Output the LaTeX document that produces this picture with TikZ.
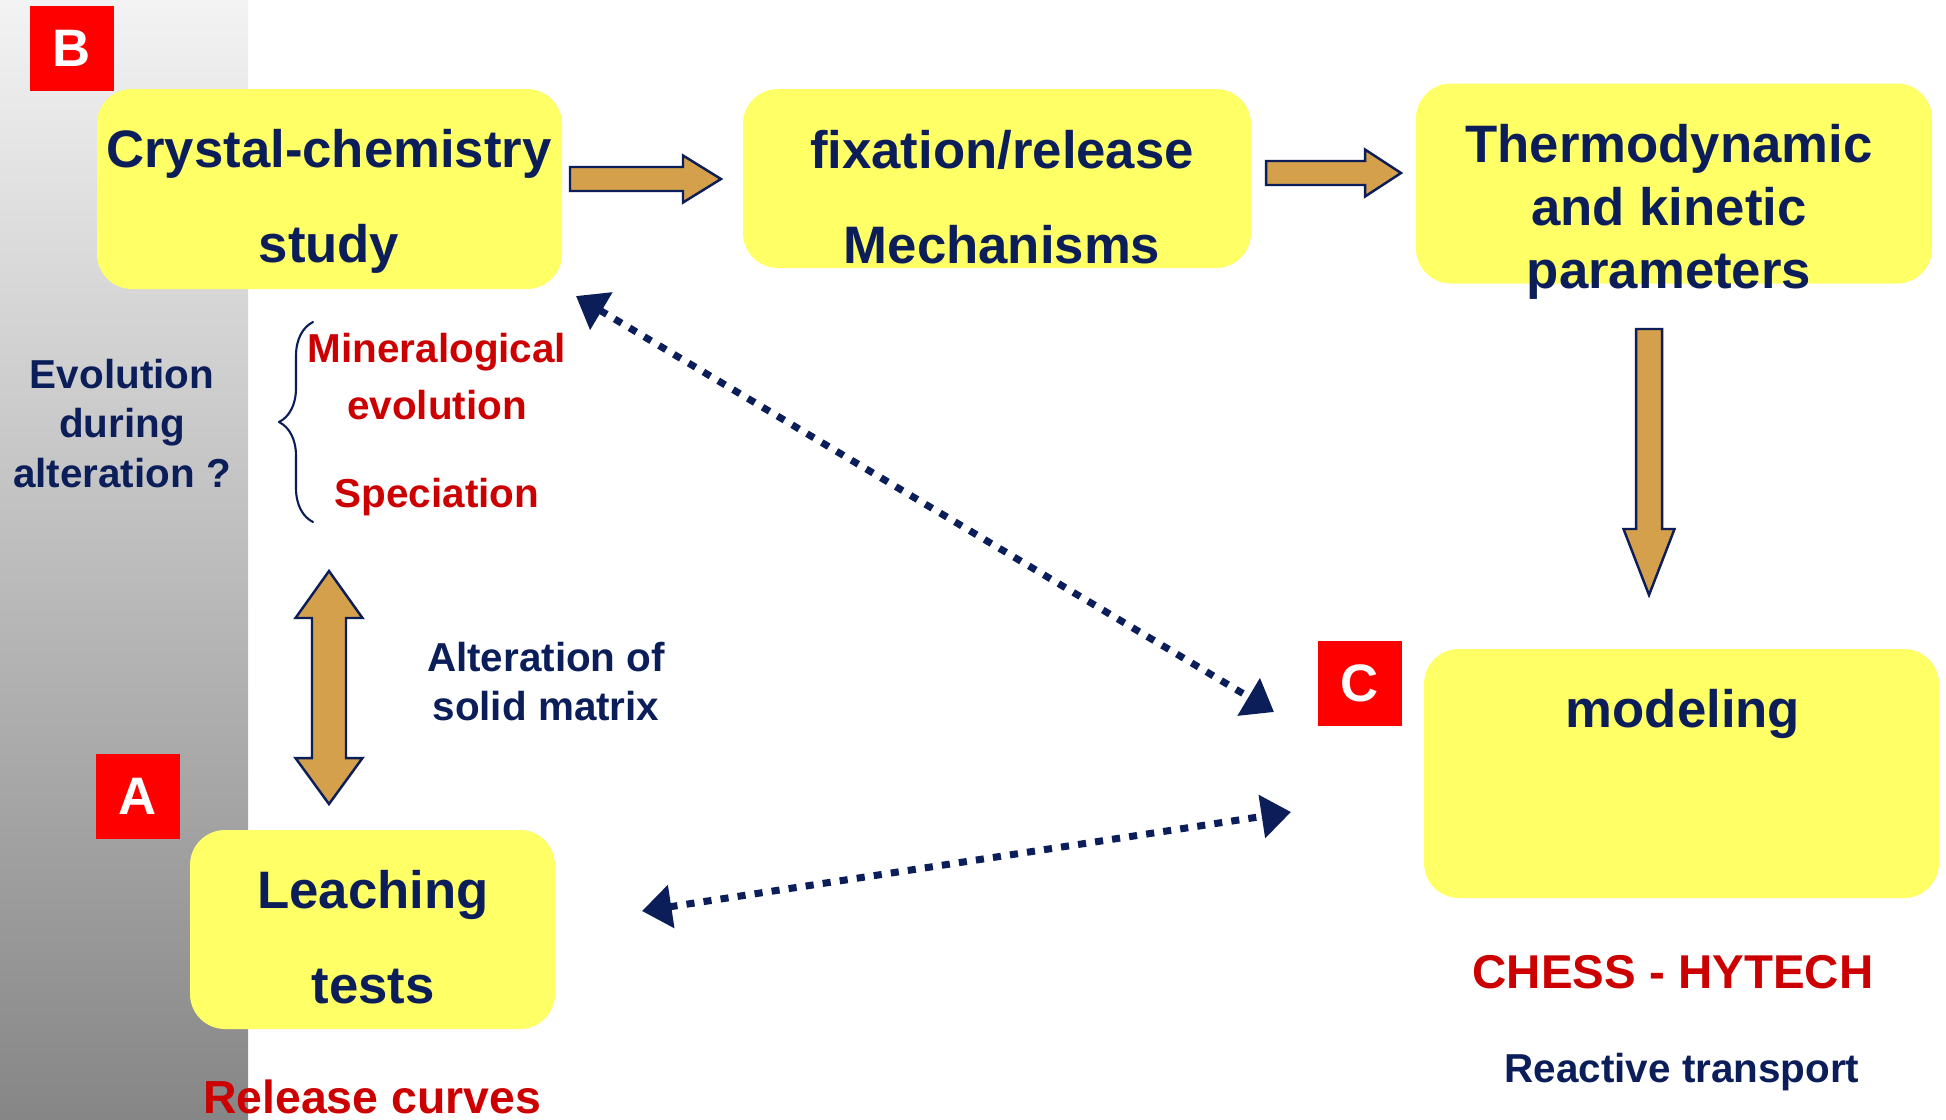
\documentclass[tikz,border=0pt]{standalone}
\usepackage{fontspec}
\setmainfont{Liberation Sans}
\usetikzlibrary{arrows.meta,decorations.pathreplacing}
\definecolor{navy}{RGB}{12,30,90}
\definecolor{boxyellow}{RGB}{255,255,102}
\definecolor{txtred}{RGB}{204,0,0}
\definecolor{ochre}{RGB}{212,160,76}
\definecolor{stripTop}{RGB}{243,243,243}
\definecolor{stripBot}{RGB}{134,134,134}
\begin{document}
\begin{tikzpicture}[line cap=round,line join=round,
  ybox/.style={fill=boxyellow,rounded corners=0.35cm,inner sep=0pt},
  boxtxt/.style={font=\fontsize{15}{27}\selectfont\bfseries,text=navy,align=center,inner sep=0pt,anchor=base},
  midtxt/.style={font=\fontsize{11.5}{14}\selectfont\bfseries,text=navy,align=center,inner sep=0pt,anchor=base},
  redtxt/.style={font=\fontsize{11.5}{16.2}\selectfont\bfseries,text=txtred,align=center,inner sep=0pt,anchor=base},
  tag/.style={fill=red,text=white,font=\fontsize{15}{18}\selectfont\bfseries,minimum width=0.84cm,minimum height=0.85cm,inner sep=0pt},
  blockarrow/.style={fill=ochre,draw=navy,line width=0.7pt,line cap=butt,line join=miter},
  dotarrow/.style={navy,line width=2pt,line cap=butt,dash pattern=on 2.3pt off 2.6pt,
    {Triangle[length=8.4pt,width=12pt]}-{Triangle[length=8.4pt,width=12pt]}}]
  % background and grey strip
  \useasboundingbox (0,0) rectangle (19.46,-11.19);
  \fill[white] (0,0) rectangle (19.46,-11.19);
  \shade[top color=stripTop,bottom color=stripBot] (0,0) rectangle (2.48,-11.19);

  % yellow boxes
  \node[ybox,minimum width=4.65cm,minimum height=2.00cm] (crystal) at (3.295,-1.89) {};
  \node[ybox,minimum width=5.08cm,minimum height=1.79cm] (fixation) at (9.97,-1.785) {};
  \node[ybox,minimum width=5.16cm,minimum height=2.00cm] (thermo) at (16.74,-1.835) {};
  \node[ybox,minimum width=3.65cm,minimum height=1.99cm] (leaching) at (3.725,-9.295) {};
  \node[ybox,minimum width=5.15cm,minimum height=2.49cm] (modeling) at (16.815,-7.735) {};

  % base = last line
  \node[boxtxt] (crystaltxt) at (3.29,-2.62) {Crystal-chemistry\\study};
  \node[boxtxt] (fixationtxt) at (10.02,-2.63) {fixation/release\\Mechanisms};
  \node[boxtxt,font=\fontsize{15}{17.8}\selectfont\bfseries] (thermotxt) at (16.69,-2.88) {Thermodynamic\\and kinetic\\parameters};
  \node[boxtxt] (leachingtxt) at (3.73,-10.03) {Leaching\\tests};
  \node[boxtxt] (modelingtxt) at (16.83,-7.27) {modeling};

  % red tags
  \node[tag] (tagB) at (0.72,-0.485) {B};
  \node[tag] (tagA) at (1.38,-7.965) {A};
  \node[tag] (tagC) at (13.60,-6.835) {C};

  % side texts
  \node[midtxt] (evol) at (1.22,-4.87) {Evolution\\during\\alteration ?};
  \node[redtxt] (miner) at (4.37,-4.19) {Mineralogical\\evolution};
  \node[redtxt] (spec) at (4.37,-5.07) {Speciation};
  \node[midtxt,font=\fontsize{11.5}{13.7}\selectfont\bfseries] (alter) at (5.46,-7.20) {Alteration of\\solid matrix};
  \node[redtxt,font=\fontsize{13.2}{16}\selectfont\bfseries] (release) at (3.72,-11.13) {Release curves};
  \node[redtxt,font=\fontsize{13.5}{16}\selectfont\bfseries] (chess) at (16.73,-9.88) {CHESS - HYTECH};
  \node[midtxt] (reactive) at (16.82,-10.82) {Reactive transport};

  \draw[navy,line width=0.6pt,decorate,decoration={brace,amplitude=0.34cm}] (3.13,-5.22) -- (3.13,-3.22);

  % block arrows
  \draw[blockarrow] (5.70,-1.67) -- (6.83,-1.67) -- (6.83,-1.555) -- (7.21,-1.79) -- (6.83,-2.025) -- (6.83,-1.91) -- (5.70,-1.91) -- cycle;
  \draw[blockarrow] (12.66,-1.61) -- (13.65,-1.61) -- (13.65,-1.495) -- (14.01,-1.73) -- (13.65,-1.965) -- (13.65,-1.85) -- (12.66,-1.85) -- cycle;
  \draw[blockarrow] (16.36,-3.29) -- (16.62,-3.29) -- (16.62,-5.29) -- (16.745,-5.29) -- (16.49,-5.95) -- (16.235,-5.29) -- (16.36,-5.29) -- cycle;
  \draw[blockarrow] (3.29,-5.71) -- (3.625,-6.18) -- (3.46,-6.18) -- (3.46,-7.58) -- (3.625,-7.58) -- (3.29,-8.04) -- (2.955,-7.58) -- (3.12,-7.58) -- (3.12,-6.18) -- (2.955,-6.18) -- cycle;

  % dotted links
  \coordinate (linkAs) at (5.76,-2.96); \coordinate (linkAe) at (12.74,-7.12);
  \coordinate (linkBs) at (6.42,-9.11); \coordinate (linkBe) at (12.91,-8.12);
  \draw[dotarrow] (linkAs) -- (linkAe);
  \draw[dotarrow] (linkBs) -- (linkBe);
\end{tikzpicture}
\end{document}
